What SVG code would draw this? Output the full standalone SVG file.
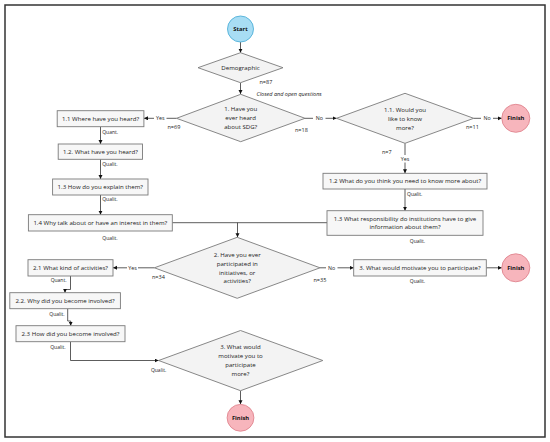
<svg xmlns="http://www.w3.org/2000/svg" width="550" height="442" viewBox="0 0 550 442">
<defs>
<marker id="ah" markerUnits="userSpaceOnUse" markerWidth="5" markerHeight="5" refX="4" refY="2" orient="auto"><path d="M0,0 L4,2 L0,4 Z" fill="#111"/></marker>
<style>
text{font-family:"Open Sans","Noto Sans","Liberation Sans",sans-serif;fill:#222}
.t{font-size:6.1px;text-anchor:middle}
.s{font-size:5px}
.n{font-size:5.5px}
.yn{font-size:5.3px;text-anchor:middle}
.term{font-size:5.8px;font-weight:bold;text-anchor:middle;fill:#111}
.box{fill:#f7f7f7;stroke:#7a7a7a;stroke-width:0.9}
.dia{fill:#f3f3f3;stroke:#7a7a7a;stroke-width:0.9}
.start{fill:#a8ddf4;stroke:#4fb0d8;stroke-width:0.9}
.fin{fill:#f7b5bc;stroke:#e0858f;stroke-width:0.9}
.c{fill:none;stroke:#333;stroke-width:0.8}
.a{marker-end:url(#ah)}
</style>
</defs>
<rect x="0" y="0" width="550" height="442" fill="#fff"/>
<rect x="5" y="5" width="540" height="432" fill="none" stroke="#333" stroke-width="1.5"/>

<g id="connectors">
<path class="c a" d="M240.5 42 V52.7"/>
<path class="c a" d="M240.5 82.7 V94"/>
<path class="c" d="M176.5 118.3 H166.5"/>
<path class="c a" d="M154 118.3 H144"/>
<path class="c" d="M305 118.3 H313"/>
<path class="c a" d="M325.5 118.3 H336.5"/>
<path class="c" d="M473.7 118.3 H481"/>
<path class="c a" d="M493 118.3 H501.8"/>
<path class="c" d="M405 143.3 V155"/>
<path class="c a" d="M405 162.5 V173.3"/>
<path class="c a" d="M405 189 V210.7"/>
<path class="c a" d="M100.5 126.7 V144"/>
<path class="c a" d="M100.5 159.3 V179"/>
<path class="c a" d="M100.5 195 V214.7"/>
<path class="c" d="M172.3 222.7 H327"/>
<path class="c a" d="M237.5 222.7 V237.3"/>
<path class="c" d="M154.4 267.8 H138"/>
<path class="c a" d="M127 267.8 H113"/>
<path class="c" d="M320 267.8 H326"/>
<path class="c a" d="M337.5 267.8 H353.7"/>
<path class="c a" d="M486.3 267.8 H501.8"/>
<path class="c a" d="M70.5 276 V289.5 H65 V292.7"/>
<path class="c a" d="M67.7 308.7 V321 H70.7 V325.7"/>
<path class="c a" d="M70.5 341.7 V360.5 H158.6"/>
<path class="c a" d="M240.5 390.7 V404.3"/>
</g>

<g id="labels">
<text class="yn" x="160.3" y="120.2">Yes</text>
<text class="n" x="167.5" y="128.8">n=69</text>
<text class="yn" x="319.3" y="120.2">No</text>
<text class="n" x="295" y="132">n=18</text>
<text class="yn" x="487" y="120.2">No</text>
<text class="n" x="466" y="128.5">n=11</text>
<text class="n" x="382" y="153.5">n=7</text>
<text class="yn" x="405" y="161">Yes</text>
<text class="yn" x="132.5" y="269.7">Yes</text>
<text class="n" x="152" y="278.5">n=34</text>
<text class="yn" x="331.5" y="269.7">No</text>
<text class="n" x="313.5" y="282.3">n=35</text>
<text class="n" x="259.5" y="83.5">n=87</text>
<text x="256.5" y="95.6" style="font-size:5.5px;font-style:italic">Closed and open questions</text>
<text class="s" x="102.2" y="134">Quant.</text>
<text class="s" x="102.2" y="165.8">Qualit.</text>
<text class="s" x="102.2" y="201">Qualit.</text>
<text class="s" x="110" y="239.8" text-anchor="middle">Qualit.</text>
<text class="s" x="407" y="195.8">Qualit.</text>
<text class="s" x="417.5" y="242.5" text-anchor="middle">Qualit.</text>
<text class="s" x="417.5" y="282.5" text-anchor="middle">Qualit.</text>
<text class="s" x="58.6" y="282" text-anchor="middle">Quant.</text>
<text class="s" x="57" y="315.8" text-anchor="middle">Qualit.</text>
<text class="s" x="57.9" y="349" text-anchor="middle">Qualit.</text>
<text class="s" x="158.6" y="371.8" text-anchor="middle">Qualit.</text>
</g>

<g id="start"><circle class="start" cx="240.5" cy="29" r="13"/><text class="term" x="240.5" y="31">Start</text></g>
<g id="demographic"><polygon class="dia" points="198,67.7 240.5,52.7 283,67.7 240.5,82.7"/><text class="t" x="240.5" y="69.8">Demographic</text></g>
<g id="q1"><polygon class="dia" points="176.5,118.3 240.7,94.3 305,118.3 240.7,141.7"/>
<text class="t" x="240.7" y="111.4">1. Have you</text><text class="t" x="240.7" y="120.4">ever heard</text><text class="t" x="240.7" y="129.4">about SDG?</text></g>
<g id="q1_1"><polygon class="dia" points="336.5,118.3 405,93.3 473.7,118.3 405,143.3"/>
<text class="t" x="405" y="112">1.1. Would you</text><text class="t" x="405" y="121">like to know</text><text class="t" x="405" y="130">more?</text></g>
<g id="finish1"><circle class="fin" cx="515.8" cy="118.3" r="14"/><text class="term" x="515.8" y="120.3">Finish</text></g>
<g id="b1_1"><rect class="box" x="57.2" y="110.7" width="86.7" height="16"/><text class="t" x="100.5" y="120.5">1.1 Where have you heard?</text></g>
<g id="b1_2"><rect class="box" x="58.2" y="144" width="84.3" height="15.3"/><text class="t" x="100.4" y="153.8">1.2. What have you heard?</text></g>
<g id="b1_3"><rect class="box" x="52.6" y="179" width="95.4" height="16"/><text class="t" x="100.3" y="189.3">1.3 How do you explain them?</text></g>
<g id="b1_4"><rect class="box" x="28.4" y="214.7" width="143.9" height="16.3"/><text class="t" x="100.3" y="225">1.4 Why talk about or have an interest in them?</text></g>
<g id="b1_2r"><rect class="box" x="323" y="173.3" width="164" height="15.7"/><text class="t" x="405" y="183.2">1.2 What do you think you need to know more about?</text></g>
<g id="b1_3r"><rect class="box" x="327" y="210.7" width="156" height="24.6"/><text class="t" x="405" y="220.8">1.3 What responsibility do institutions have to give</text><text class="t" x="405" y="229.4">information about them?</text></g>
<g id="q2"><polygon class="dia" points="154.4,267.8 237.2,237.3 320,267.8 237.2,298.3"/>
<text class="t" x="237.2" y="257.4">2. Have you ever</text><text class="t" x="237.2" y="266.1">participated in</text><text class="t" x="237.2" y="274.8">initiatives, or</text><text class="t" x="237.2" y="283.1">activities?</text></g>
<g id="b2_1"><rect class="box" x="28" y="259.7" width="85" height="16.3"/><text class="t" x="70.5" y="270">2.1 What kind of activities?</text></g>
<g id="b3"><rect class="box" x="353.7" y="259.7" width="132.6" height="16.3"/><text class="t" x="420" y="270">3. What would motivate you to participate?</text></g>
<g id="finish2"><circle class="fin" cx="515.8" cy="267.8" r="14"/><text class="term" x="515.8" y="269.8">Finish</text></g>
<g id="b2_2"><rect class="box" x="9.8" y="292.7" width="110.6" height="16"/><text class="t" x="65.1" y="302.8">2.2. Why did you become involved?</text></g>
<g id="b2_3"><rect class="box" x="16" y="325.7" width="109" height="16"/><text class="t" x="70.5" y="335.8">2.3 How did you become involved?</text></g>
<g id="q3"><polygon class="dia" points="158.6,360.5 240.5,330.5 322.8,360.5 240.5,390.7"/>
<text class="t" x="240.5" y="349.4">3. What would</text><text class="t" x="240.5" y="358.1">motivate you to</text><text class="t" x="240.5" y="366.9">participate</text><text class="t" x="240.5" y="375.6">more?</text></g>
<g id="finish3"><circle class="fin" cx="240.5" cy="417.8" r="13.4"/><text class="term" x="240.5" y="419.8">Finish</text></g>
</svg>
